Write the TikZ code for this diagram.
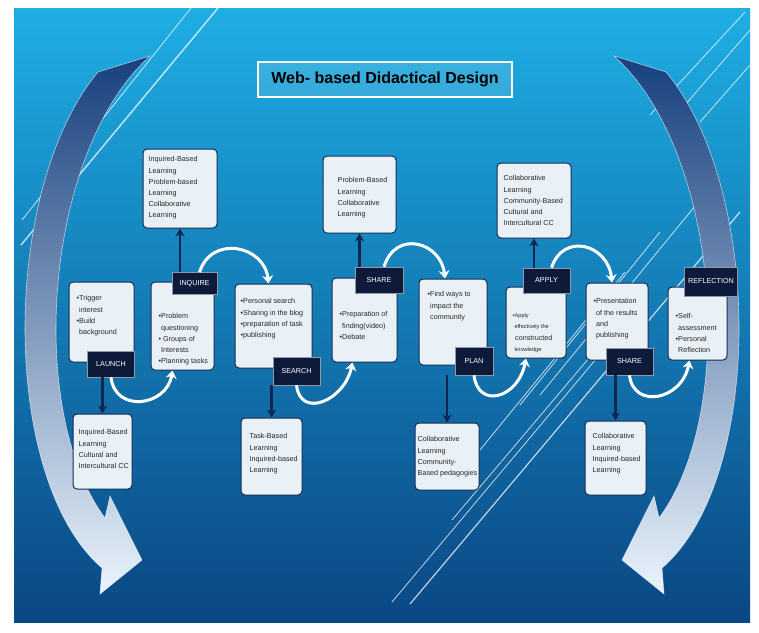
\documentclass[tikz,border=0pt]{standalone}
\usepackage{fontspec}
\setmainfont{Liberation Sans}
\usetikzlibrary{arrows.meta,positioning}

\definecolor{bgtop}{HTML}{1EAEE4}
\definecolor{bgbot}{HTML}{0A4784}
\definecolor{navy}{HTML}{0D1A3A}
\definecolor{cardfill}{HTML}{E9F1F7}
\definecolor{cardline}{HTML}{142C55}
\definecolor{stemblue}{HTML}{0F2650}
\definecolor{sweepdark}{HTML}{17407E}
\definecolor{sweepmid}{HTML}{3F86C6}
\definecolor{sweeplight}{HTML}{EAF4FC}

\newcommand{\tinytxt}{\fontsize{5.6}{11.2}\selectfont}

\begin{document}
\begin{tikzpicture}[
    x=1pt, y=-1pt,
    card/.style={draw=cardline, line width=1pt, fill=cardfill, rounded corners=4pt, inner sep=0pt},
    txt/.style={inner sep=0pt, align=left, text=black!85, font=\fontsize{7.2}{11.2}\selectfont},
    tag/.style={fill=navy, draw=white!55!navy, line width=0.6pt, text=white,
        font=\fontsize{7.2}{8}\selectfont, minimum width=47pt, minimum height=26pt, inner sep=0pt},
    stem/.style={draw=stemblue, line width=2.8pt, -{Stealth[length=8pt, width=9pt]}},
    hop/.style={draw=white, line width=3pt, -{Stealth[length=8pt, width=11pt]}},
    streak/.style={draw=white, line width=0.8pt, opacity=0.75}
]
    \useasboundingbox (0,0) rectangle (759,632);

    % 背景
    \fill[white] (0,0) rectangle (759,632);
    \shade[top color=bgtop, bottom color=bgbot] (14,8) rectangle (750,622);

    % 斜线
    \draw[streak, line width=1.4pt] (21,245) -- (218,8);
    \draw[streak] (22,220) -- (191,8);
    \draw[streak] (650,115) -- (745,12);
    \draw[streak] (665,128) -- (750,30);
    \draw[streak] (700,122) -- (750,65);
    \draw[streak, line width=1.2pt] (410,604) -- (740,212);
    \draw[streak] (392,602) -- (612,340);
    \draw[streak] (452,520) -- (600,345);
    \draw[streak] (480,450) -- (625,272);
    \draw[streak] (520,405) -- (660,232);
    \draw[streak] (540,395) -- (700,200);

    % 左右大弧形箭头
    \shade[top color=sweepdark, middle color=sweepmid, bottom color=sweeplight, draw=white, draw opacity=0.6, line width=0.6pt]
        (98,72) -- (150,56) .. controls (45,150) and (25,410) .. (105,518) -- (110,496) -- (142,560)
        -- (100,594) -- (102,568) .. controls (0,480) and (0,190) .. (98,72) -- cycle;
    \shade[top color=sweepdark, middle color=sweepmid, bottom color=sweeplight, draw=white, draw opacity=0.6, line width=0.6pt]
        (666,72) -- (614,56) .. controls (719,150) and (739,410) .. (659,518) -- (654,496) -- (622,560)
        -- (664,594) -- (662,568) .. controls (764,480) and (764,190) .. (666,72) -- cycle;

    % 标题
    \node[draw=white, line width=1.5pt, fill=white, fill opacity=0.12, text opacity=1,
        minimum width=254pt, minimum height=35pt, font=\fontsize{16}{18}\selectfont\bfseries]
        (title) at (385,79.5) {Web- based Didactical Design};

    % 主要步骤框
    \node[card, minimum width=65pt, minimum height=80pt] (b1) at (101.5,322) {};
    \node[card, minimum width=63pt, minimum height=88pt] (b2) at (182.5,326) {};
    \node[card, minimum width=77pt, minimum height=84pt] (b3) at (273.5,326) {};
    \node[card, minimum width=65pt, minimum height=84pt] (b4) at (364.5,320) {};
    \node[card, minimum width=68pt, minimum height=86pt] (b5) at (453,322) {};
    \node[card, minimum width=60pt, minimum height=71pt] (b6) at (536,322.5) {};
    \node[card, minimum width=62pt, minimum height=77pt] (b7) at (617,321.5) {};
    \node[card, minimum width=59pt, minimum height=73pt] (b8) at (697.5,323.5) {};

    \node[txt, below right=14pt and 8pt of b1.north west] (b1t) {•Trigger\\\phantom{•}interest\\•Build\\\phantom{•}background};
    \node[txt, below right=32pt and 8pt of b2.north west] (b2t) {•Problem\\\phantom{•}questioning\\• Groups of\\\phantom{•}Interests\\•Planning tasks};
    \node[txt, below right=15pt and 6pt of b3.north west] (b3t) {•Personal search\\•Sharing in the blog\\•preparation of task\\•publishing};
    \node[txt, below right=34pt and 8pt of b4.north west] (b4t) {•Preparation of\\\phantom{•}finding(video)\\•Debate};
    \node[txt, below right=13pt and 9pt of b5.north west] (b5t) {•Find ways to\\\phantom{•}impact the\\\phantom{•}community};
    \node[txt, below right=27pt and 7pt of b6.north west] (b6t) {{\tinytxt •Apply}\\{\tinytxt\phantom{•}effectively the}\\\phantom{•}constructed\\{\tinytxt\phantom{•}knowledge}};
    \node[txt, below right=16pt and 8pt of b7.north west] (b7t) {•Presentation\\\phantom{•}of the results\\\phantom{•}and\\\phantom{•}publishing};
    \node[txt, below right=27pt and 8pt of b8.north west] (b8t) {•Self-\\\phantom{•}assessment\\•Personal\\\phantom{•}Reflection};

    % 上方与下方的教学法框
    \node[card, minimum width=74pt, minimum height=79pt] (t2) at (180,188.5) {};
    \node[card, minimum width=73pt, minimum height=77pt] (t4) at (359.5,194.5) {};
    \node[card, minimum width=74pt, minimum height=75pt] (t6) at (534,200.5) {};
    \node[card, minimum width=59pt, minimum height=75pt] (d1) at (102.5,451.5) {};
    \node[card, minimum width=61pt, minimum height=77pt] (d3) at (271.5,456.5) {};
    \node[card, minimum width=64pt, minimum height=67pt] (d5) at (447,456.5) {};
    \node[card, minimum width=61pt, minimum height=74pt] (d7) at (615.5,458) {};

    \node[txt, below right=8pt and 6pt of t2.north west] (t2t) {Inquired-Based\\Learning\\Problem-based\\Learning\\Collaborative\\Learning};
    \node[txt, below right=22pt and 15pt of t4.north west] (t4t) {Problem-Based\\Learning\\Collaborative\\Learning};
    \node[txt, below right=13pt and 7pt of t6.north west] (t6t) {Collaborative\\Learning\\Community-Based\\Cultural and\\Intercultural CC};
    \node[txt, below right=16pt and 6pt of d1.north west] (d1t) {Inquired-Based\\Learning\\Cultural and\\Intercultural CC};
    \node[txt, below right=16pt and 9pt of d3.north west] (d3t) {Task-Based\\Learning\\Inquired-based\\Learning};
    \node[txt, below right=14pt and 3pt of d5.north west] (d5t) {Collaborative\\Learning\\Community-\\Based pedagogies};
    \node[txt, below right=13pt and 8pt of d7.north west] (d7t) {Collaborative\\Learning\\Inquired-based\\Learning};

    % 阶段标签
    \node[tag] (lab1) at (111,364) {LAUNCH};
    \node[tag, minimum width=45pt, minimum height=22pt] (lab2) at (194.5,283.5) {INQUIRE};
    \node[tag, minimum height=28pt] (lab3) at (296.5,371) {SEARCH};
    \node[tag, minimum width=48pt] (lab4) at (379,280) {SHARE};
    \node[tag, minimum width=38pt, minimum height=28pt] (lab5) at (474,361) {PLAN};
    \node[tag, minimum height=25pt] (lab6) at (546.5,280.5) {APPLY};
    \node[tag, minimum height=27pt] (lab7) at (629.5,361.5) {SHARE};
    \node[tag, minimum width=53pt, minimum height=29pt] (lab8) at (711,281.5) {REFLECTION};

    % 深色竖直箭头
    \draw[stem] (lab1.south -| d1.north) -- (d1.north);
    \draw[stem] (lab2.north -| t2.south) -- (t2.south);
    \draw[stem] (lab3.south -| d3.north) -- (d3.north);
    \draw[stem] (lab4.north -| t4.south) -- (t4.south);
    \draw[stem] (lab5.south -| d5.north) -- (d5.north);
    \draw[stem] (lab6.north -| t6.south) -- (t6.south);
    \draw[stem] (lab7.south -| d7.north) -- (d7.north);

    % 白色弧形箭头
    \draw[hop] (lab1.south) .. controls +(4,36) and +(-6,36) .. ([xshift=-10pt]b2.south);
    \draw[hop] ([xshift=5pt]lab2.north) .. controls +(12,-38) and +(-4,-38) .. ([xshift=-5pt]b3.north);
    \draw[hop] (lab3.south) .. controls +(4,34) and +(-8,38) .. ([xshift=-12pt]b4.south);
    \draw[hop] ([xshift=5pt]lab4.north) .. controls +(12,-38) and +(-4,-36) .. ([xshift=-8pt]b5.north);
    \draw[hop] (lab5.south) .. controls +(4,34) and +(-8,40) .. ([xshift=-10pt]b6.south);
    \draw[hop] ([xshift=5pt]lab6.north) .. controls +(12,-36) and +(-4,-38) .. ([xshift=-5pt]b7.north);
    \draw[hop] (lab7.south) .. controls +(4,34) and +(-8,40) .. ([xshift=-8pt]b8.south);

\end{tikzpicture}
\end{document}
